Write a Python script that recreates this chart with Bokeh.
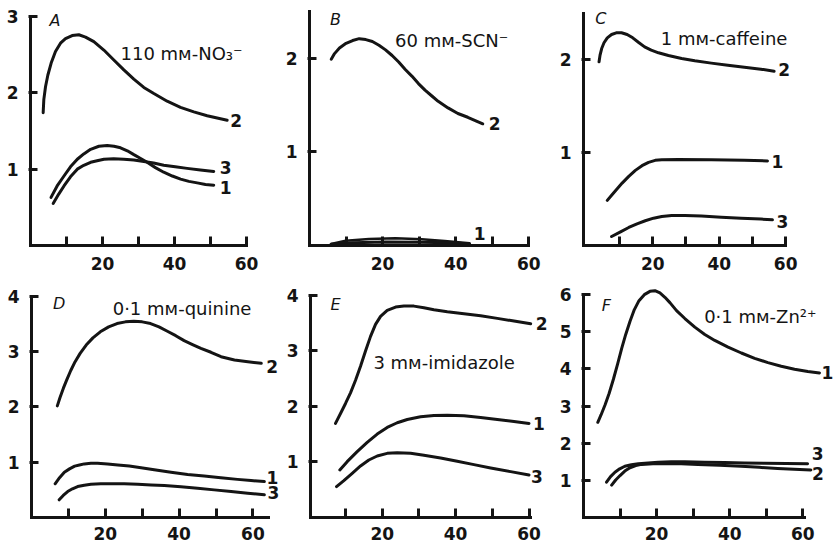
from bokeh.plotting import figure
from bokeh.layouts import row, column
from bokeh.models import Range1d, FixedTicker, Label
from bokeh.embed import file_html
from bokeh.resources import INLINE

FONT = "DejaVu Sans"
INK = "#141414"

# ---------------- data ----------------
x_major = [20, 40, 60]
x_minor = [10, 30, 50]

# Panel A : 110 mM-NO3-
a2_x = [3.52, 3.70, 4.17, 4.81, 5.74, 6.94, 8.33, 9.72, 11.57, 13.43, 15.28, 17.59, 20.37,
        23.15, 25.93, 28.70, 31.48, 34.26, 37.96, 41.67, 45.37, 49.07, 54.63]
a2_y = [1.74, 1.91, 2.08, 2.23, 2.39, 2.54, 2.65, 2.71, 2.75, 2.76, 2.73, 2.67, 2.56,
        2.43, 2.30, 2.18, 2.07, 1.99, 1.89, 1.81, 1.75, 1.70, 1.64]
a1_x = [5.7, 7.4, 9.3, 11.1, 13.0, 14.8, 16.7, 19.0, 21.3, 23.2, 25.0, 26.9, 28.7, 30.6,
        32.4, 34.7, 37.0, 39.4, 41.7, 44.0, 46.3, 48.6, 50.9]
a1_y = [0.63, 0.78, 0.91, 1.03, 1.13, 1.20, 1.26, 1.30, 1.31, 1.30, 1.28, 1.24, 1.19, 1.14,
        1.09, 1.02, 0.96, 0.91, 0.87, 0.84, 0.82, 0.80, 0.79]
a3_x = [6.3, 7.8, 9.3, 11.1, 13.0, 14.8, 16.7, 18.5, 20.4, 23.1, 25.9, 28.7, 31.5, 34.2,
        37.0, 40.2, 43.5, 47.2, 50.9]
a3_y = [0.55, 0.67, 0.78, 0.90, 1.00, 1.05, 1.09, 1.11, 1.13, 1.135, 1.13, 1.12, 1.10, 1.08,
        1.05, 1.03, 1.01, 0.99, 0.97]

# Panel B : 60 mM-SCN-
b2_x = [5.95, 6.85, 8.2, 10.0, 11.8, 13.6, 15.4, 17.2, 19.0, 20.8, 22.6, 24.4, 26.2, 28.0,
        29.8, 31.6, 33.4, 35.2, 37.9, 40.6, 43.3, 47.4]
b2_y = [1.99, 2.05, 2.11, 2.16, 2.19, 2.21, 2.20, 2.18, 2.14, 2.09, 2.03, 1.96, 1.88, 1.81,
        1.73, 1.66, 1.60, 1.54, 1.47, 1.41, 1.37, 1.30]
b1_x = [5.9, 9.9, 16.3, 23.5, 30.7, 37.0, 43.8]
b1_y = [0.016, 0.05, 0.07, 0.077, 0.066, 0.048, 0.023]
b1b_x = [5.9, 11.8, 20.8, 29.8, 38.8, 43.8]
b1b_y = [0.013, 0.03, 0.037, 0.034, 0.03, 0.016]

# Panel C : 1 mM-caffeine
c2_x = [3.84, 4.14, 4.63, 5.33, 6.32, 7.61, 9.01, 10.60, 12.29, 13.98, 15.77, 17.55, 19.54,
        21.73, 24.71, 28.69, 32.66, 37.63, 42.60, 47.57, 52.54, 56.52]
c2_y = [1.975, 2.047, 2.118, 2.180, 2.233, 2.269, 2.287, 2.287, 2.269, 2.233, 2.183, 2.136,
        2.100, 2.072, 2.043, 2.011, 1.986, 1.961, 1.939, 1.917, 1.896, 1.874]
c1_x = [6.32, 7.81, 9.30, 10.79, 12.78, 14.77, 16.76, 18.74, 20.73, 22.72, 27.69, 37.63,
        47.57, 54.53]
c1_y = [0.485, 0.549, 0.610, 0.671, 0.743, 0.808, 0.858, 0.894, 0.916, 0.923, 0.926, 0.923,
        0.916, 0.909]
c3_x = [7.61, 10.30, 12.78, 15.27, 17.75, 20.24, 22.72, 25.70, 29.68, 34.65, 40.62, 46.58,
        52.54, 56.02]
c3_y = [0.097, 0.147, 0.194, 0.233, 0.266, 0.294, 0.312, 0.323, 0.323, 0.316, 0.305, 0.294,
        0.284, 0.276]

# Panel D : 0.1 mM-quinine
d2_x = [7.0, 7.73, 8.64, 9.55, 10.64, 11.82, 13.18, 14.82, 16.64, 18.64, 20.91, 23.18, 25.45,
        27.73, 30.0, 32.27, 34.55, 36.82, 39.09, 41.36, 43.64, 45.91, 48.64, 51.36, 55.0,
        58.64, 62.27]
d2_y = [2.02, 2.17, 2.34, 2.49, 2.66, 2.82, 2.97, 3.12, 3.25, 3.36, 3.45, 3.51, 3.54, 3.55,
        3.54, 3.51, 3.45, 3.37, 3.29, 3.20, 3.13, 3.06, 2.99, 2.91, 2.85, 2.82, 2.79]
d1_x = [6.4, 7.6, 8.9, 10.3, 11.7, 13.0, 14.3, 16.1, 17.9, 20.6, 23.4, 26.5, 29.7, 33.7,
        37.8, 42.3, 46.8, 51.3, 55.8, 59.5, 63.1]
d1_y = [0.61, 0.72, 0.82, 0.88, 0.93, 0.95, 0.97, 0.98, 0.98, 0.97, 0.95, 0.93, 0.90, 0.86,
        0.82, 0.78, 0.75, 0.72, 0.69, 0.67, 0.65]
d3_x = [7.5, 8.6, 9.8, 11.1, 12.5, 14.3, 16.1, 18.8, 21.5, 25.1, 28.8, 32.4, 36.0, 40.5,
        45.0, 49.5, 54.1, 58.6, 63.1]
d3_y = [0.32, 0.40, 0.47, 0.52, 0.56, 0.585, 0.60, 0.61, 0.61, 0.61, 0.60, 0.59, 0.58, 0.555,
        0.53, 0.50, 0.47, 0.44, 0.41]

# Panel E : 3 mM-imidazole
e2_x = [7.27, 8.64, 10.0, 11.36, 12.73, 14.09, 15.45, 16.82, 18.18, 19.55, 21.36, 23.64,
        25.91, 28.64, 31.36, 34.09, 37.73, 42.27, 46.82, 51.36, 55.91, 60.45]
e2_y = [1.695, 1.874, 2.054, 2.246, 2.473, 2.725, 3.000, 3.263, 3.479, 3.623, 3.731, 3.790,
        3.808, 3.808, 3.778, 3.743, 3.707, 3.671, 3.635, 3.587, 3.539, 3.491]
e1_x = [8.45, 10.45, 13.18, 15.91, 18.64, 21.36, 24.09, 26.82, 30.45, 34.09, 37.73, 42.27,
        46.82, 51.36, 55.91, 60.0]
e1_y = [0.856, 1.006, 1.186, 1.353, 1.503, 1.623, 1.707, 1.766, 1.814, 1.838, 1.844, 1.832,
        1.802, 1.766, 1.731, 1.695]
e3_x = [7.55, 9.55, 11.82, 14.09, 16.36, 18.64, 21.36, 24.09, 27.73, 31.36, 35.91, 40.45,
        45.0, 49.55, 55.0, 60.0]
e3_y = [0.557, 0.665, 0.796, 0.928, 1.036, 1.108, 1.156, 1.168, 1.156, 1.120, 1.072, 1.012,
        0.952, 0.892, 0.826, 0.766]

# Panel F : 0.1 mM-Zn2+
f1_x = [3.91, 4.82, 5.91, 7.0, 8.18, 9.36, 10.45, 11.55, 12.73, 13.91, 15.18, 16.64, 18.18,
        19.55, 20.91, 22.27, 23.64, 25.45, 27.73, 30.45, 33.18, 35.91, 39.55, 43.18, 46.82,
        50.45, 54.09, 57.73, 61.36, 64.55]
f1_y = [2.563, 2.768, 3.036, 3.339, 3.723, 4.143, 4.554, 4.929, 5.286, 5.598, 5.839, 6.0,
        6.089, 6.107, 6.045, 5.929, 5.786, 5.571, 5.357, 5.125, 4.929, 4.768, 4.589, 4.429,
        4.286, 4.170, 4.071, 3.991, 3.929, 3.893]
f3_x = [6.3, 7.4, 8.6, 9.9, 11.3, 13.1, 15.0, 17.7, 20.4, 24.0, 27.7, 33.1, 38.6, 44.0,
        49.5, 55.4, 61.3]
f3_y = [0.95, 1.10, 1.22, 1.31, 1.38, 1.42, 1.45, 1.47, 1.49, 1.50, 1.50, 1.49, 1.48, 1.47,
        1.46, 1.455, 1.45]
f2_x = [7.7, 8.8, 10.0, 11.3, 12.7, 14.3, 15.9, 19.0, 22.2, 26.7, 31.3, 37.2, 43.1, 48.1,
        53.1, 57.6, 62.2]
f2_y = [0.87, 1.01, 1.13, 1.25, 1.34, 1.40, 1.43, 1.445, 1.45, 1.445, 1.43, 1.41, 1.38, 1.35,
        1.32, 1.30, 1.28]

letters = ["A", "B", "C", "D", "E", "F"]
conditions = ["110 m\u1d0d-NO\u2083\u207b", "60 m\u1d0d-SCN\u207b", "1 m\u1d0d-caffeine",
              "0\u00b71 m\u1d0d-quinine", "3 m\u1d0d-imidazole", "0\u00b71 m\u1d0d-Zn\u00b2\u207a"]


def panel(width, height, borders, x_start, x_ppu, y_ppu, xbounds, ybounds, yticks, xstand):
    left, right, top, bottom = borders
    fw = width - left - right
    fh = height - top - bottom
    p = figure(width=width, height=height,
               x_range=Range1d(x_start, x_start + fw / x_ppu),
               y_range=Range1d(0, fh / y_ppu),
               output_backend="svg", toolbar_location=None, title=None,
               min_border_left=left, min_border_right=right,
               min_border_top=top, min_border_bottom=bottom)
    p.outline_line_color = None
    p.grid.visible = False
    p.background_fill_color = "white"
    p.border_fill_color = "white"

    xa = p.xaxis[0]
    xa.ticker = FixedTicker(ticks=x_major, minor_ticks=x_minor)
    xa.bounds = xbounds
    ya = p.yaxis[0]
    ya.ticker = FixedTicker(ticks=yticks)
    ya.bounds = ybounds
    for ax in (xa, ya):
        ax.axis_line_width = 3
        ax.axis_line_color = INK
        ax.axis_line_cap = "square"
        ax.major_tick_line_width = 3
        ax.major_tick_line_color = INK
        ax.minor_tick_line_width = 3
        ax.minor_tick_line_color = INK
        ax.major_label_text_font = FONT
        ax.major_label_text_font_size = "17px"
        ax.major_label_text_font_style = "bold"
        ax.major_label_text_color = INK
    xa.major_tick_in = 9
    xa.major_tick_out = 0
    xa.minor_tick_in = 9
    xa.minor_tick_out = 0
    xa.major_label_standoff = xstand
    ya.major_tick_in = 7
    ya.major_tick_out = 2
    ya.minor_tick_in = 0
    ya.minor_tick_out = 0
    ya.major_label_standoff = 10
    return p


def curve(p, xs, ys, width=3):
    p.line(xs, ys, line_width=width, line_color=INK, line_cap="round", line_join="round")


def end_label(p, text, xs, ys, dx, dy):
    p.add_layout(Label(x=xs[-1], y=ys[-1], text=text, x_offset=dx, y_offset=dy,
                       text_font=FONT, text_font_size="17px", text_font_style="bold",
                       text_color=INK, text_align="center", text_baseline="middle"))


def note(p, text, x, y):
    p.add_layout(Label(x=x, y=y, text=text, text_font=FONT, text_font_size="18px",
                       text_color=INK, text_align="left", text_baseline="middle"))


def letter(p, text, x, y):
    p.add_layout(Label(x=x, y=y, text=text, text_font=FONT, text_font_size="16px",
                       text_font_style="italic", text_color=INK,
                       text_align="left", text_baseline="middle"))


TOP_H = 278
BOT_H = 270

pA = panel(282, TOP_H, (30, 2, 10, 31), 0, 3.6, 77, (0, 60), (0, 3), [1, 2, 3], 11)
pB = panel(274, TOP_H, (24, 2, 10, 32), 0, 3.7, 94, (0, 60), (0, 2.5), [1, 2], 11)
pC = panel(282, TOP_H, (25, 10, 10, 33), -0.84, 3.35, 93, (-0.84, 60), (0, 2.5), [1, 2], 11)
pD = panel(282, BOT_H, (31, 2, 6, 30), 0, 3.69, 55.5, (0, 64.3), (0, 4), [1, 2, 3, 4], 9)
pE = panel(274, BOT_H, (28, 2, 6, 30), 0.46, 3.67, 55.75, (0.46, 60.5), (0, 4), [1, 2, 3, 4], 9)
pF = panel(282, BOT_H, (26, 2, 5, 31), 0, 3.67, 37.3, (0, 60.5), (0, 6), [1, 2, 3, 4, 5, 6], 9)

# A
curve(pA, a2_x, a2_y); curve(pA, a1_x, a1_y); curve(pA, a3_x, a3_y)
end_label(pA, "2", a2_x, a2_y, 9, 0)
end_label(pA, "3", a3_x, a3_y, 12, 4)
end_label(pA, "1", a1_x, a1_y, 12, -2)
letter(pA, letters[0], 5.3, 2.95)
note(pA, conditions[0], 25, 2.52)

# B
curve(pB, b2_x, b2_y); curve(pB, b1_x, b1_y, 2.5); curve(pB, b1b_x, b1b_y)
end_label(pB, "2", b2_x, b2_y, 12, 0)
end_label(pB, "1", b1_x, b1_y, 10, 10)
letter(pB, letters[1], 5.6, 2.41)
note(pB, conditions[1], 23.4, 2.19)

# C
curve(pC, c2_x, c2_y); curve(pC, c1_x, c1_y); curve(pC, c3_x, c3_y)
end_label(pC, "2", c2_x, c2_y, 10, 2)
end_label(pC, "1", c1_x, c1_y, 10, -1)
end_label(pC, "3", c3_x, c3_y, 10, -2)
letter(pC, letters[2], 2.7, 2.44)
note(pC, conditions[2], 22.4, 2.23)

# D
curve(pD, d2_x, d2_y); curve(pD, d1_x, d1_y); curve(pD, d3_x, d3_y)
end_label(pD, "2", d2_x, d2_y, 11, -3)
end_label(pD, "1", d1_x, d1_y, 8, 4)
end_label(pD, "3", d3_x, d3_y, 9, 2)
letter(pD, letters[3], 5.8, 3.88)
note(pD, conditions[3], 22, 3.78)

# E
curve(pE, e2_x, e2_y); curve(pE, e1_x, e1_y); curve(pE, e3_x, e3_y)
end_label(pE, "2", e2_x, e2_y, 11, 0)
end_label(pE, "1", e1_x, e1_y, 10, 0)
end_label(pE, "3", e3_x, e3_y, 8, -2)
letter(pE, letters[4], 5.9, 3.84)
note(pE, conditions[4], 17.6, 2.80)

# F
curve(pF, f1_x, f1_y); curve(pF, f3_x, f3_y); curve(pF, f2_x, f2_y)
end_label(pF, "1", f1_x, f1_y, 8, 0)
end_label(pF, "3", f3_x, f3_y, 10, 10)
end_label(pF, "2", f2_x, f2_y, 7, -4)
letter(pF, letters[5], 5.0, 5.72)
note(pF, conditions[5], 33, 5.42)

layout = column(row(pA, pB, pC), row(pD, pE, pF))

open("out.html", "w").write(file_html(layout, INLINE))
